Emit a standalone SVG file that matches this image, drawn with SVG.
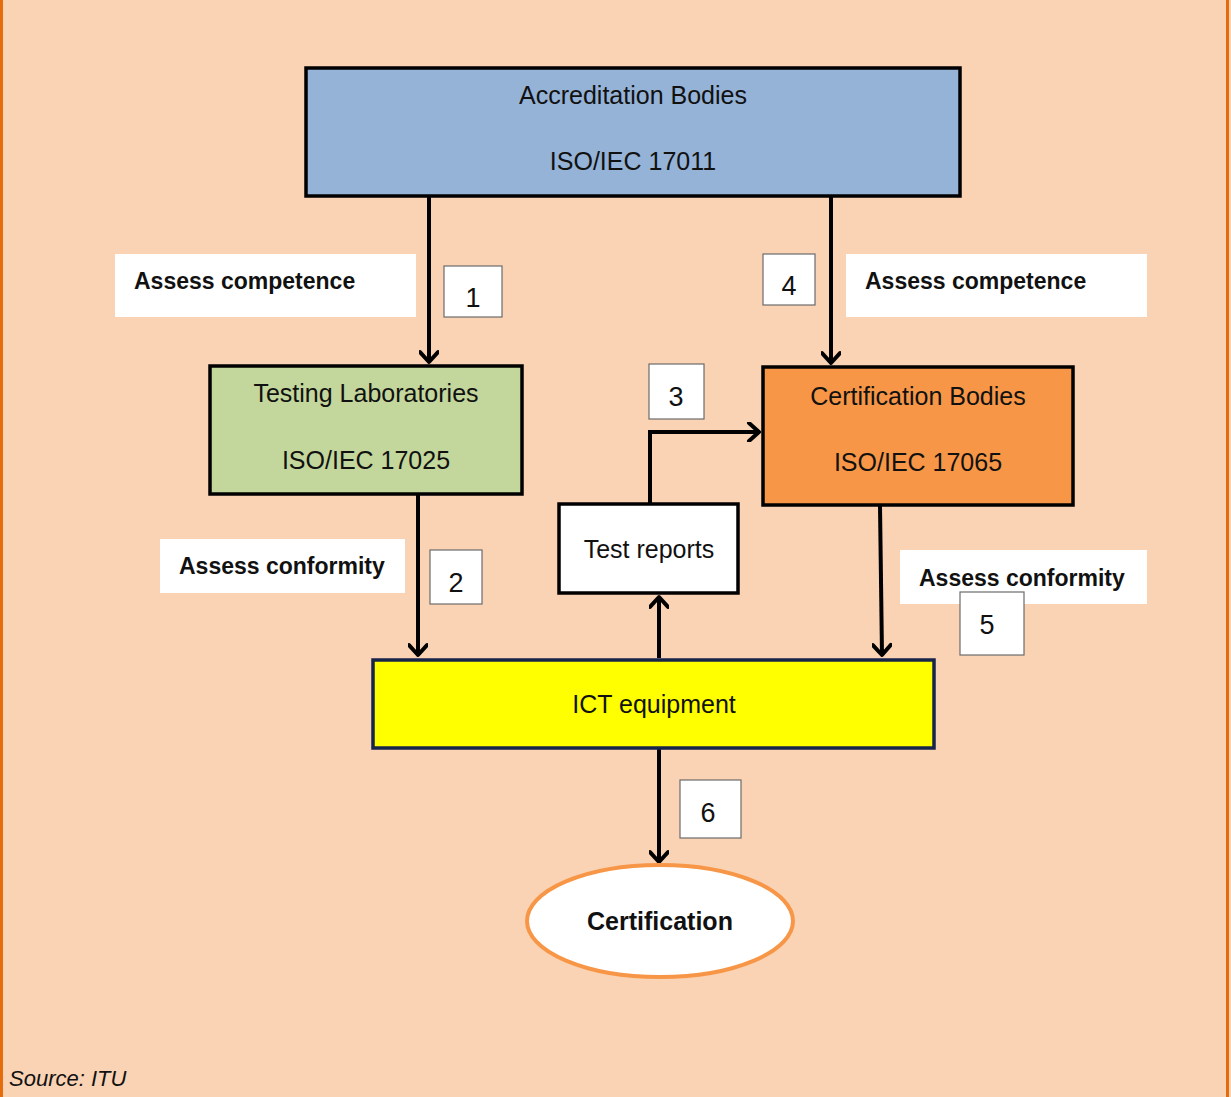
<svg xmlns="http://www.w3.org/2000/svg" width="1231" height="1097" viewBox="0 0 1231 1097">
<defs>
<style>
.t{font-family:"Liberation Sans",Arial,sans-serif;font-size:25px;fill:#111;text-anchor:middle}
.b{font-family:"Liberation Sans",Arial,sans-serif;font-size:23px;font-weight:bold;fill:#111}
.n{font-family:"Liberation Sans",Arial,sans-serif;font-size:27px;fill:#111;text-anchor:middle}
.box{stroke:#000;stroke-width:3.5}
.lbl{fill:#fff}
.num{fill:#fff;stroke:#6b6b6b;stroke-width:1.2}
.c{fill:none;stroke:#000;stroke-width:4}
</style>
<marker id="ah" markerWidth="20" markerHeight="20" refX="0" refY="0" viewBox="-12 -10 14 20" orient="auto" markerUnits="userSpaceOnUse">
<path d="M-10,-9 L0,0 L-10,9" fill="none" stroke="#000" stroke-width="4" stroke-linecap="round" stroke-linejoin="round"/>
</marker>
</defs>
<rect x="0" y="0" width="1231" height="1097" fill="#FAD3B4"/>
<rect x="0" y="0" width="3" height="1097" fill="#E46C0A"/>
<rect x="1226" y="0" width="3" height="1097" fill="#E46C0A"/>

<g id="labels">
<rect class="lbl" x="115" y="254" width="301" height="63"/>
<text class="b" x="134" y="289">Assess competence</text>
<rect class="lbl" x="846" y="254" width="301" height="63"/>
<text class="b" x="865" y="289">Assess competence</text>
<rect class="lbl" x="160" y="539" width="245" height="54"/>
<text class="b" x="179" y="574">Assess conformity</text>
<rect class="lbl" x="900" y="550" width="247" height="54"/>
<text class="b" x="919" y="586">Assess conformity</text>
<rect class="num" x="444" y="266" width="58" height="51"/>
<text class="n" x="473" y="307">1</text>
<rect class="num" x="430" y="550" width="52" height="54"/>
<text class="n" x="456" y="592">2</text>
<rect class="num" x="649" y="364" width="55" height="55"/>
<text class="n" x="676" y="406">3</text>
<rect class="num" x="763" y="254" width="52" height="51"/>
<text class="n" x="789" y="295">4</text>
<rect class="num" x="960" y="592" width="64" height="63"/>
<text class="n" x="987" y="634">5</text>
<rect class="num" x="680" y="780" width="61" height="58"/>
<text class="n" x="708" y="822">6</text>
</g>

<g id="connectors">
<path class="c" d="M429,197 V362" marker-end="url(#ah)"/>
<path class="c" d="M831,197 V363" marker-end="url(#ah)"/>
<path class="c" d="M418,495 V655" marker-end="url(#ah)"/>
<path class="c" d="M880,506 L882,655" marker-end="url(#ah)"/>
<path class="c" d="M659,658 V597" marker-end="url(#ah)"/>
<path class="c" d="M650,503 V432 H759" marker-end="url(#ah)"/>
<path class="c" d="M659,749 V862" marker-end="url(#ah)"/>
</g>

<g id="accreditation">
<rect class="box" x="306" y="68" width="654" height="128" fill="#95B3D7"/>
<text class="t" x="633" y="104">Accreditation Bodies</text>
<text class="t" x="633" y="170">ISO/IEC 17011</text>
</g>
<g id="testing">
<rect class="box" x="210" y="366" width="312" height="128" fill="#C3D69B"/>
<text class="t" x="366" y="402">Testing Laboratories</text>
<text class="t" x="366" y="469">ISO/IEC 17025</text>
</g>
<g id="certbodies">
<rect class="box" x="763" y="367" width="310" height="138" fill="#F79646"/>
<text class="t" x="918" y="405">Certification Bodies</text>
<text class="t" x="918" y="471">ISO/IEC 17065</text>
</g>
<g id="testreports">
<rect class="box" x="559" y="504" width="179" height="89" fill="#FFFFFF"/>
<text class="t" x="649" y="558">Test reports</text>
</g>
<g id="ict">
<rect x="373" y="660" width="561" height="88" fill="#FFFF00" stroke="#17254A" stroke-width="3.5"/>
<text class="t" x="654" y="713">ICT equipment</text>
</g>
<g id="certification">
<ellipse cx="660" cy="921" rx="133" ry="56" fill="#FFFFFF" stroke="#F79646" stroke-width="4"/>
<text class="t" x="660" y="930" font-size="24" font-weight="bold">Certification</text>
</g>
<text x="9" y="1086" font-family="Liberation Sans, Arial, sans-serif" font-size="22" font-style="italic" fill="#111">Source: ITU</text>
</svg>
